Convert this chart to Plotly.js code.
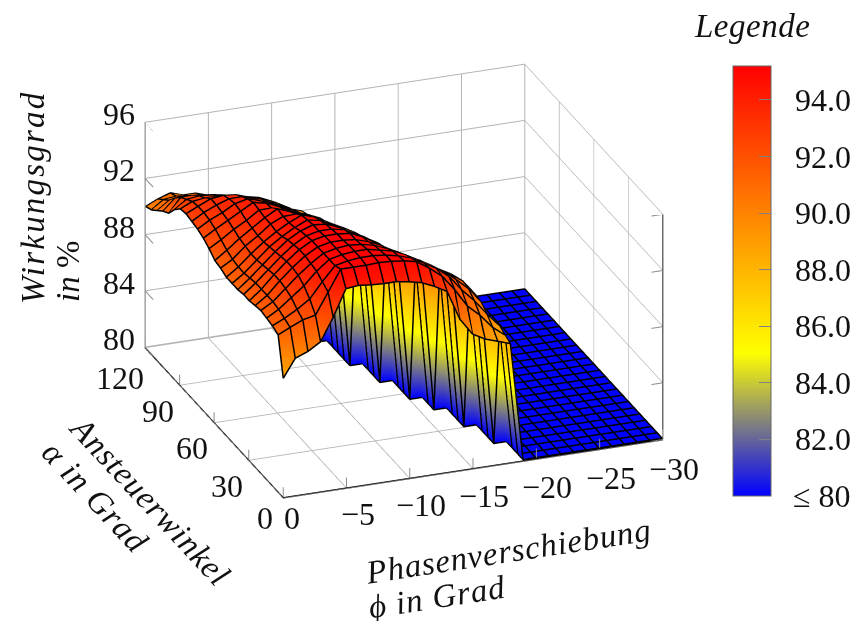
<!DOCTYPE html>
<html><head><meta charset="utf-8">
<script src="https://cdn.plot.ly/plotly-3.0.0.min.js"></script>
<style>
html,body{margin:0;padding:0;background:#fff}
#plot{width:858px;height:621px}
text[data-unformatted*="Wirkungsgrad"]{letter-spacing:2.2px}
text[data-unformatted*="Anste"]{letter-spacing:0.9px}
text[data-unformatted*="Phasen"]{letter-spacing:0.8px}
text[data-unformatted*="Grad"]{letter-spacing:1px}
text[data-unformatted*="Legende"]{letter-spacing:0.5px}
</style>
</head><body><div id="plot"></div>
<script>
// |phi| in degrees (labelled with a minus sign on the axis)
var phiDeg = [0,1,2,3,4,5,6,7,8,9,10,11,12,13,14,15,16,17,18,19,20,21,22,23,24,25,26,27,28,29,30];
var alphaDeg = [0,5,10,15,20,25,30,35,40,45,50,55,60,65,70,75,80,85,90,95,100,105,110,115,120];
// efficiency in %, one row per alpha, one column per phi; 80 = "<= 80"
var efficiency = [
[88.4,89.7,90.05,90.6,92.2,94.1,94.2,94.1,94.05,94.05,93.9,93.7,93.3,92.8,90.7,89.5,89.0,88.7,88.4,80,80,80,80,80,80,80,80,80,80,80,80],
[91.1,91.5,91.9,92.1,93.6,95.1,95.1,95.1,95.15,95.1,95.0,94.8,94.2,93.5,92.4,91.1,90.3,89.3,88.6,80,80,80,80,80,80,80,80,80,80,80,80],
[91.3,91.7,92.2,92.8,93.9,94.9,95.1,95.2,95.2,95.1,94.9,94.6,94.1,93.6,92.9,91.8,90.9,89.8,88.8,80,80,80,80,80,80,80,80,80,80,80,80],
[91.4,91.9,92.6,93.3,94.2,94.9,95.1,95.2,95.2,95.0,94.8,94.4,93.9,93.4,92.8,92.1,91.3,90.2,80,80,80,80,80,80,80,80,80,80,80,80,80],
[91.5,92.0,92.8,93.6,94.3,94.9,95.1,95.2,95.1,94.9,94.5,94.1,93.5,93.0,92.5,92.0,91.4,90.3,80,80,80,80,80,80,80,80,80,80,80,80,80],
[91.4,92.0,92.9,93.7,94.4,94.9,95.1,95.1,95.0,94.7,94.3,93.8,93.2,92.8,92.3,91.7,91.2,90.3,80,80,80,80,80,80,80,80,80,80,80,80,80],
[91.3,92.0,92.9,93.7,94.4,94.9,95.1,95.1,95.0,94.6,94.0,93.5,92.9,92.5,92.0,91.5,91.0,80,80,80,80,80,80,80,80,80,80,80,80,80,80],
[91.3,92.0,92.8,93.6,94.3,94.8,95.0,95.0,94.8,94.3,93.8,93.2,92.7,92.2,91.8,91.2,90.6,80,80,80,80,80,80,80,80,80,80,80,80,80,80],
[91.2,91.9,92.7,93.5,94.2,94.7,95.0,94.9,94.5,94.0,93.6,93.0,92.3,91.9,91.4,90.9,90.4,80,80,80,80,80,80,80,80,80,80,80,80,80,80],
[91.2,91.8,92.6,93.4,94.0,94.5,94.9,94.7,94.2,93.7,93.3,92.7,92.1,91.7,91.2,90.7,80,80,80,80,80,80,80,80,80,80,80,80,80,80,80],
[91.2,91.8,92.6,93.3,93.9,94.4,94.8,94.5,93.9,93.4,93.0,92.5,92.0,91.3,90.7,90.2,80,80,80,80,80,80,80,80,80,80,80,80,80,80,80],
[91.4,91.9,92.7,93.3,94.0,94.4,94.4,94.0,93.6,93.2,92.7,92.2,91.7,91.1,90.5,80,80,80,80,80,80,80,80,80,80,80,80,80,80,80,80],
[91.5,92.1,92.8,93.4,94.0,94.5,94.1,93.7,93.3,92.9,92.4,91.9,91.4,90.9,90.2,80,80,80,80,80,80,80,80,80,80,80,80,80,80,80,80],
[91.9,92.4,93.0,93.5,94.1,94.1,93.8,93.3,93.0,92.5,92.1,91.5,91.1,90.6,90.0,80,80,80,80,80,80,80,80,80,80,80,80,80,80,80,80],
[92.2,92.7,93.2,93.7,94.2,94.0,93.6,93.1,92.7,92.2,91.8,91.2,90.8,90.4,80,80,80,80,80,80,80,80,80,80,80,80,80,80,80,80,80],
[92.4,92.9,93.3,93.8,94.0,93.7,93.3,92.8,92.4,92.0,91.5,91.0,90.5,90.1,80,80,80,80,80,80,80,80,80,80,80,80,80,80,80,80,80],
[92.5,93.0,93.4,93.7,93.7,93.4,93.0,92.6,92.1,91.7,91.2,90.8,90.4,89.9,80,80,80,80,80,80,80,80,80,80,80,80,80,80,80,80,80],
[92.6,93.0,93.4,93.5,93.4,93.1,92.8,92.3,91.9,91.4,91.0,90.5,90.1,80,80,80,80,80,80,80,80,80,80,80,80,80,80,80,80,80,80],
[92.5,92.9,93.0,93.0,92.9,92.7,92.5,92.1,91.6,91.2,90.6,90.3,89.8,80,80,80,80,80,80,80,80,80,80,80,80,80,80,80,80,80,80],
[92.0,92.6,92.7,92.6,92.4,92.3,92.0,91.7,91.2,90.8,90.3,89.9,89.5,80,80,80,80,80,80,80,80,80,80,80,80,80,80,80,80,80,80],
[91.3,92.3,92.3,92.2,92.0,91.9,91.6,91.3,90.9,90.5,90.0,89.7,89.3,80,80,80,80,80,80,80,80,80,80,80,80,80,80,80,80,80,80],
[91.0,91.8,91.8,91.7,91.6,91.4,91.3,91.0,90.6,90.2,89.8,89.5,80,80,80,80,80,80,80,80,80,80,80,80,80,80,80,80,80,80,80],
[90.6,91.2,91.3,91.2,91.1,91.0,90.8,90.6,90.3,89.9,89.5,88.9,80,80,80,80,80,80,80,80,80,80,80,80,80,80,80,80,80,80,80],
[90.2,90.8,90.9,90.8,90.7,90.6,90.4,90.2,89.9,89.6,89.3,88.8,80,80,80,80,80,80,80,80,80,80,80,80,80,80,80,80,80,80,80],
[90.0,90.4,90.7,90.4,90.4,90.1,90.0,89.8,89.6,89.4,89.0,88.5,80,80,80,80,80,80,80,80,80,80,80,80,80,80,80,80,80,80,80]
];
var phiTicks = [0,5,10,15,20,25,30];
var phiTickText = ["0","−5","−10","−15","−20","−25","−30"];
var alphaTicks = [0,30,60,90,120];
var zTicks = [80,84,88,92,96];
var colorTicks = [80,82,84,86,88,90,92,94];
var colorTickText = ["≤ 80","82.0","84.0","86.0","88.0","90.0","92.0","94.0"];

var W=858,H=621;
var serif='Liberation Serif, Times New Roman, serif';
var tickFont={family:serif,size:32,color:'#111'};
var sa=[];
phiTicks.forEach(function(v,i){sa.push({x:v,y:0,z:80,text:phiTickText[i],showarrow:false,font:tickFont,xshift:i==0?9:11,yshift:i==0?-21:-(26+i*0.7)});});
alphaTicks.forEach(function(v,i){sa.push({x:0,y:v,z:80,text:String(v),showarrow:false,font:tickFont,xshift:i==0?-18:(i==4?-25:-22),yshift:i==0?-21:(i==4?-31:-26)});});
zTicks.forEach(function(v){sa.push({x:0,y:120,z:v,text:String(v),showarrow:false,font:tickFont,xshift:-26,yshift:8});});

function ann(px,py,text,angle,size){return {xref:'paper',yref:'paper',x:px/W,y:1-py/H,xanchor:'center',yanchor:'middle',text:text,textangle:angle,showarrow:false,font:{family:serif,size:size||33,color:'#111'}};}
var anns=[
 ann(33,198,'<i>Wirkungsgrad</i>',-90),
 ann(68,272,'<i>in</i> %',-90),
 ann(150,501,'<i>Ansteuerwinkel</i>',47),
 ann(95,497,'<i>α in Grad</i>',47),
 ann(509,551,'<i>Phasenverschiebung</i>',-8.7),
 ann(437,597,'<i>ϕ in Grad</i>',-8.7),
 ann(752,26,'<i>Legende</i>',0)
];
var barL=733,barR=771,barT=66,barB=496,cmax=95.2;
var shapes=[];
colorTicks.forEach(function(v,i){
  var py=barB-(v-80)/(cmax-80)*(barB-barT);
  anns.push({xref:'paper',yref:'paper',x:853/W,y:1-py/H,xanchor:'right',yanchor:'middle',text:colorTickText[i],showarrow:false,font:tickFont});
  if(i>0) shapes.push({type:'line',xref:'paper',yref:'paper',x0:barL/W,x1:(barL+12)/W,y0:1-py/H,y1:1-py/H,line:{color:'#808080',width:1}});
});

var trace={type:'surface',x:phiDeg,y:alphaDeg,z:efficiency,cmin:80,cmax:cmax,
 colorscale:[[0,'rgb(0,0,255)'],[1/3,'rgb(255,255,0)'],[1,'rgb(255,0,0)']],
 lighting:{ambient:1,diffuse:0,specular:0,fresnel:0,roughness:1},hoverinfo:'skip',
 contours:{x:{show:false,highlight:false},y:{show:false,highlight:false},z:{show:false,highlight:false}},
 colorbar:{x:barL/W,xanchor:'left',xpad:0,y:1-barB/H,yanchor:'bottom',ypad:0,len:(barB-barT)/H,lenmode:'fraction',thickness:barR-barL,thicknessmode:'pixels',
   outlinecolor:'#666',outlinewidth:1,tickvals:colorTicks,ticks:'inside',ticklen:12,tickcolor:'#808080',tickwidth:1,showticklabels:false}
};
// wireframe along the grid rows and columns of the data, nudged slightly toward the camera
var wx=[],wy=[],wz=[];
function wpt(p,a,v){wx.push(Math.max(0,p-0.05));wy.push(Math.max(0,a-0.55));wz.push(v+0.056);}
function wbreak(){wx.push(null);wy.push(null);wz.push(null);}
alphaDeg.forEach(function(a,j){phiDeg.forEach(function(p,i){wpt(p,a,efficiency[j][i]);});wbreak();});
phiDeg.forEach(function(p,i){alphaDeg.forEach(function(a,j){wpt(p,a,efficiency[j][i]);});wbreak();});
var wire={type:'scatter3d',mode:'lines',x:wx,y:wy,z:wz,line:{color:'#000',width:3},hoverinfo:'skip',showlegend:false};
// tick marks and the vertical z axis edges, in axis units
var tx=[],ty=[],tz=[];
function seg(a,b){tx.push(a[0],b[0],null);ty.push(a[1],b[1],null);tz.push(a[2],b[2],null);}
phiTicks.forEach(function(v){seg([v,0,80],[v,0,80.7]);});
alphaTicks.forEach(function(v){seg([0,v,80],[0,v,80.7]);});
zTicks.forEach(function(v){seg([0,120,v],[0,113,v]);seg([30,0,v],[29.1,0,v]);});
var tickTrace={type:'scatter3d',mode:'lines',x:tx,y:ty,z:tz,line:{color:'#8c8c8c',width:2},hoverinfo:'skip',showlegend:false};
var rightAxis={type:'scatter3d',mode:'lines',x:[30,30],y:[0,0],z:[80,96],line:{color:'#222',width:2.5},hoverinfo:'skip',showlegend:false};
var leftAxis={type:'scatter3d',mode:'lines',x:[0,0],y:[120,120],z:[80,96],line:{color:'#9a9a9a',width:3},hoverinfo:'skip',showlegend:false};

function ax(range,tv,col){return {range:range,autorange:false,tickvals:tv,showticklabels:false,title:{text:''},showbackground:false,showgrid:true,gridcolor:'#b4b4b4',gridwidth:2,
  zeroline:false,showline:true,linecolor:col,linewidth:3,ticks:'',showspikes:false};}
var cx=404,cy=281,dh=562,eyeLen=1.878;
var layout={width:W,height:H,margin:{l:0,r:0,t:0,b:0,autoexpand:false},paper_bgcolor:'#fff',showlegend:false,hovermode:false,
 annotations:anns,shapes:shapes,
 scene:{domain:{x:[0,2*cx/W],y:[1-(cy+dh/2)/H,1-(cy-dh/2)/H]},
  aspectmode:'manual',aspectratio:{x:1.443,y:1.399,z:0.8786},
  camera:{projection:{type:'orthographic'},center:{x:0,y:0,z:0},up:{x:0,y:0,z:1},eye:{x:-0.3208*eyeLen,y:-0.8548*eyeLen,z:0.4078*eyeLen}},
  xaxis:ax([0,30],phiTicks,'#000'),yaxis:ax([0,120],alphaTicks,'#000'),zaxis:ax([79.95,96],zTicks,'#999'),
  annotations:sa}
};
Plotly.newPlot('plot',[trace,wire,tickTrace,rightAxis,leftAxis],layout,{displayModeBar:false});
</script></body></html>
